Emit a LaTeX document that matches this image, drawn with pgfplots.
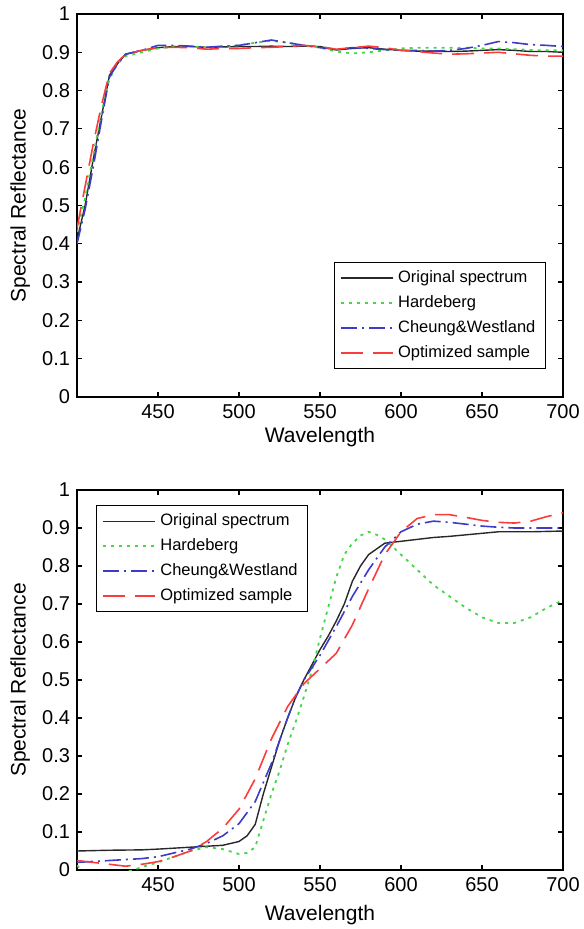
\documentclass[border=0pt]{standalone}
\usepackage{fontspec}
\setmainfont{Liberation Sans}
\usepackage{pgfplots}
\pgfplotsset{compat=1.18}

\definecolor{cblack}{RGB}{40,40,40}
\definecolor{cgreen}{RGB}{70,215,70}
\definecolor{cblue}{RGB}{60,60,200}
\definecolor{cred}{RGB}{250,60,60}

\pgfplotsset{
  spec/.style={
    scale only axis,
    width=243pt,
    xmin=400, xmax=700, ymin=0, ymax=1,
    xtick={450,500,550,600,650,700},
    ytick={0,0.1,0.2,0.3,0.4,0.5,0.6,0.7,0.8,0.9,1},
    yticklabels={0,0.1,0.2,0.3,0.4,0.5,0.6,0.7,0.8,0.9,1},
    tick align=inside,
    major tick length=2.5pt,
    tick style={black, line width=0.6pt},
    axis line style={black, line width=0.7pt},
    /pgf/number format/assume math mode=true,
    tick label style={font=\fontsize{10}{12}\selectfont},
    label style={font=\fontsize{10.5}{12}\selectfont},
    xlabel={Wavelength},
    ylabel={Spectral Reflectance},
    ylabel style={at={(axis description cs:-0.117,0.5)}, anchor=center},
    legend style={draw=black, line width=0.6pt, font=\fontsize{8.25}{10}\selectfont,
      row sep=1pt, inner xsep=3pt, inner ysep=2pt},
    legend cell align=left,
    legend image code/.code={\draw[#1] (0pt,0pt) -- (26pt,0pt);},
  },
  orig/.style={cblack, line width=0.7pt},
  hard/.style={cgreen, line width=0.9pt, dash pattern=on 1.5pt off 2.5pt},
  cheu/.style={cblue, line width=0.8pt, dash pattern=on 8pt off 2.5pt on 1pt off 2.5pt},
  opti/.style={cred, line width=0.8pt, dash pattern=on 11pt off 5pt},
}

\begin{document}
\begin{tikzpicture}
\useasboundingbox (0,0) rectangle (291.5pt,464.5pt);

% top panel
\begin{axis}[spec, height=191.5pt, at={(38.5pt,266pt)}, anchor=south west,
  xlabel style={at={(axis description cs:0.5,-0.105)}, anchor=center},
  legend style={at={(0.965,0.073)}, anchor=south east}]
\addplot[orig] coordinates {(400,0.41)(405,0.50)(410,0.62)(415,0.73)(420,0.84)(425,0.87)(430,0.895)(440,0.905)(450,0.912)(460,0.915)(470,0.915)(480,0.913)(490,0.914)(500,0.915)(510,0.915)(520,0.916)(530,0.915)(540,0.916)(550,0.915)(560,0.906)(570,0.91)(580,0.912)(590,0.908)(600,0.905)(610,0.903)(620,0.903)(630,0.902)(640,0.903)(650,0.905)(660,0.907)(670,0.905)(680,0.902)(690,0.902)(700,0.9)};
\addplot[hard] coordinates {(400,0.43)(405,0.52)(410,0.63)(415,0.74)(420,0.83)(425,0.87)(430,0.89)(440,0.90)(450,0.91)(460,0.915)(470,0.915)(480,0.912)(490,0.915)(500,0.918)(510,0.925)(520,0.93)(530,0.925)(540,0.918)(550,0.912)(560,0.902)(570,0.897)(580,0.9)(590,0.905)(600,0.91)(610,0.912)(620,0.912)(630,0.912)(640,0.912)(650,0.91)(660,0.91)(670,0.908)(680,0.906)(690,0.905)(700,0.905)};
\addplot[cheu] coordinates {(400,0.40)(405,0.49)(410,0.60)(415,0.72)(420,0.835)(425,0.87)(430,0.895)(440,0.905)(450,0.918)(460,0.918)(470,0.916)(480,0.913)(490,0.916)(500,0.918)(510,0.925)(520,0.932)(530,0.925)(540,0.918)(550,0.912)(560,0.908)(570,0.912)(580,0.91)(590,0.907)(600,0.905)(610,0.905)(620,0.903)(630,0.905)(640,0.91)(650,0.918)(660,0.928)(670,0.925)(680,0.92)(690,0.918)(700,0.915)};
\addplot[opti] coordinates {(400,0.44)(405,0.55)(410,0.66)(415,0.76)(420,0.845)(425,0.875)(430,0.895)(440,0.905)(450,0.912)(460,0.913)(470,0.912)(480,0.908)(490,0.91)(500,0.91)(510,0.912)(520,0.913)(530,0.915)(540,0.918)(550,0.915)(560,0.908)(570,0.912)(580,0.916)(590,0.912)(600,0.905)(610,0.902)(620,0.898)(630,0.895)(640,0.896)(650,0.898)(660,0.9)(670,0.896)(680,0.892)(690,0.89)(700,0.89)};
\legend{Original spectrum, Hardeberg, Cheung\&Westland, Optimized sample}
\end{axis}

% bottom panel
\begin{axis}[spec, height=190pt, at={(38.5pt,29.5pt)}, anchor=south west,
  xlabel style={at={(axis description cs:0.5,-0.118)}, anchor=center},
  legend style={at={(0.039,0.96)}, anchor=north west}]
\addplot[orig] coordinates {(400,0.05)(420,0.052)(440,0.053)(450,0.055)(470,0.06)(490,0.065)(500,0.075)(505,0.09)(510,0.12)(515,0.20)(520,0.27)(525,0.34)(530,0.40)(535,0.455)(540,0.50)(545,0.54)(550,0.58)(555,0.615)(560,0.655)(565,0.70)(570,0.76)(575,0.80)(580,0.83)(585,0.845)(590,0.86)(600,0.865)(610,0.87)(620,0.875)(630,0.878)(640,0.882)(650,0.886)(660,0.89)(670,0.89)(680,0.89)(690,0.891)(700,0.892)};
\addplot[hard] coordinates {(400,0.012)(405,-0.01)(420,-0.015)(435,0.0)(440,0.008)(450,0.02)(460,0.035)(470,0.05)(480,0.06)(490,0.055)(500,0.042)(505,0.045)(510,0.06)(515,0.13)(520,0.20)(525,0.26)(530,0.33)(535,0.39)(540,0.455)(545,0.525)(550,0.61)(555,0.69)(560,0.77)(565,0.83)(570,0.86)(575,0.88)(580,0.89)(585,0.882)(590,0.87)(600,0.83)(610,0.79)(620,0.75)(630,0.72)(640,0.69)(650,0.665)(660,0.65)(670,0.65)(680,0.665)(690,0.69)(700,0.71)};
\addplot[cheu] coordinates {(400,0.02)(420,0.025)(440,0.03)(450,0.035)(460,0.045)(470,0.055)(480,0.07)(490,0.09)(500,0.122)(510,0.18)(515,0.23)(520,0.28)(525,0.34)(530,0.40)(535,0.455)(540,0.50)(550,0.565)(560,0.64)(570,0.72)(580,0.79)(590,0.85)(600,0.89)(610,0.91)(620,0.918)(630,0.915)(640,0.91)(650,0.905)(660,0.902)(670,0.9)(680,0.9)(690,0.9)(700,0.9)};
\addplot[opti] coordinates {(400,0.025)(410,0.02)(420,0.015)(430,0.01)(440,0.015)(450,0.022)(460,0.035)(470,0.05)(480,0.075)(490,0.11)(500,0.16)(510,0.24)(520,0.345)(530,0.43)(540,0.49)(545,0.51)(550,0.53)(560,0.57)(570,0.645)(580,0.74)(590,0.83)(600,0.89)(610,0.925)(620,0.935)(630,0.935)(640,0.928)(650,0.92)(660,0.915)(670,0.913)(680,0.918)(690,0.93)(700,0.94)};
\legend{Original spectrum, Hardeberg, Cheung\&Westland, Optimized sample}
\end{axis}
\end{tikzpicture}
\end{document}
